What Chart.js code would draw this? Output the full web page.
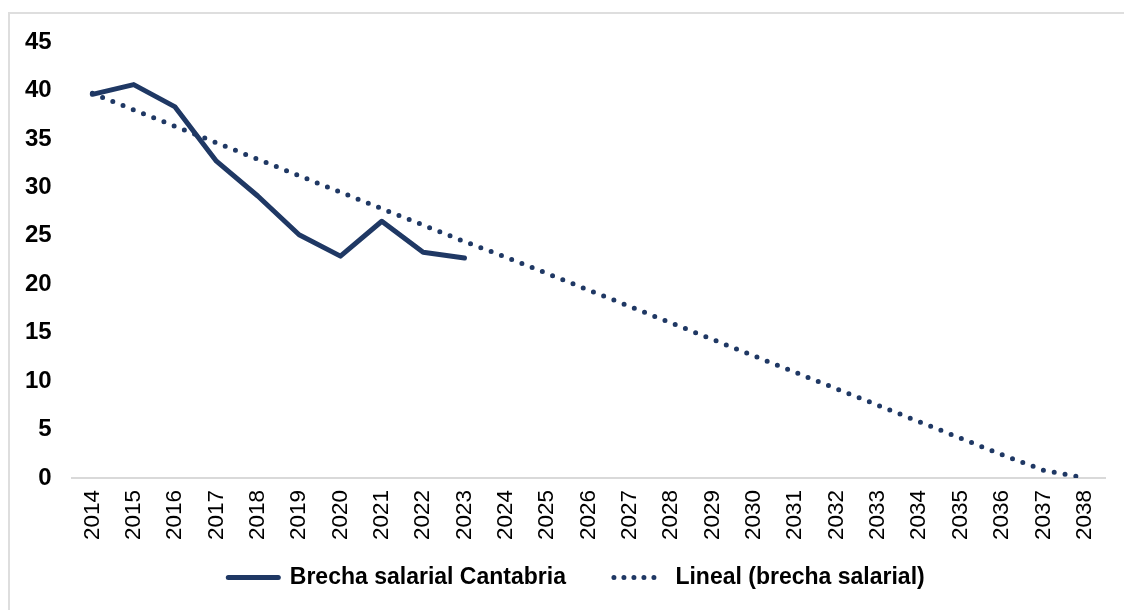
<!DOCTYPE html>
<html>
<head>
<meta charset="utf-8">
<script src="https://cdn.jsdelivr.net/npm/chart.js@4.4.1/dist/chart.umd.min.js"></script>
<style>
  html, body { margin: 0; padding: 0; background: #fff; overflow: hidden; }
  #wrap { position: relative; width: 1124px; height: 610px; }
  #frame { position: absolute; left: 8px; top: 12px; width: 1200px; height: 700px;
           border-top: 2px solid #dedede; border-left: 2px solid #dedede; pointer-events: none; }
  canvas { position: absolute; left: 0; top: 0; }
</style>
</head>
<body>
<div id="wrap">
  <div id="frame"></div>
  <canvas id="myChart" width="1124" height="610"></canvas>
</div>
<script>
// years on the x-axis
var years = ['2014','2015','2016','2017','2018','2019','2020','2021','2022','2023','2024','2025','2026',
             '2027','2028','2029','2030','2031','2032','2033','2034','2035','2036','2037','2038'];
// wage gap in Cantabria (observed)
var brecha = [39.6,40.6,38.3,32.7,29.1,25.1,22.9,26.5,23.3,22.7];
// linear trend line
var lineal = [39.7,38.0,36.3,34.6,32.9,31.2,29.5,27.8,26.1,24.4,22.8,21.1,19.4,
              17.7,16.0,14.3,12.6,10.9,9.2,7.5,5.8,4.1,2.4,0.8,0];
var yTicks = [0,5,10,15,20,25,30,35,40,45];

var navy = '#1F3864';

// legend: keep wide spacing between the two items but a short box height
var LEGEND_PAD = 48;
var legendFit = {
  id: 'legendFit',
  beforeLayout: function (chart) {
    var lg = chart.legend;
    if (lg && !lg._fitWrapped) {
      var orig = lg.fit;
      lg.fit = function () { orig.call(this); this.height = 58; };
      lg._fitWrapped = true;
    }
  },
  afterLayout: function (chart) {
    var lg = chart.legend;
    if (lg) {
      // draw the items higher than the padding would put them (clip box grows too)
      lg.top -= 34; lg.height += 34;
      lg.left += 20; lg.right += 20;
    }
  }
};

var ctx = document.getElementById('myChart');
var myChart = new Chart(ctx, {
  type: 'line',
  data: {
    labels: years,
    datasets: [
      {
        label: 'Brecha salarial Cantabria',
        data: brecha,
        borderColor: navy,
        backgroundColor: navy,
        borderWidth: 5,
        borderCapStyle: 'round',
        borderJoinStyle: 'round',
        pointRadius: 0,
        pointHoverRadius: 0,
        tension: 0,
        fill: false
      },
      {
        label: 'Lineal (brecha salarial)',
        data: lineal,
        borderColor: navy,
        backgroundColor: navy,
        borderWidth: 5,
        borderDash: [0, 11],
        borderCapStyle: 'round',
        pointRadius: 0,
        pointHoverRadius: 0,
        tension: 0,
        fill: false
      }
    ]
  },
  options: {
    responsive: false,
    animation: false,
    layout: { padding: { top: 42, right: 16, left: 5, bottom: 0 } },
    plugins: {
      tooltip: { enabled: false },
      legend: {
        position: 'bottom',
        labels: {
          usePointStyle: true,
          pointStyle: 'line',
          pointStyleWidth: 50,
          padding: LEGEND_PAD,
          color: '#000',
          font: { family: '"Liberation Sans", sans-serif', size: 23, weight: 'bold' },
          generateLabels: function (chart) {
            var items = Chart.defaults.plugins.legend.labels.generateLabels(chart);
            items.forEach(function (it, i) {
              var ds = chart.data.datasets[i];
              it.lineWidth = 5;
              it.lineCap = 'round';
              it.lineDash = ds.borderDash ? [0, 10] : [];
              it.pointStyle = 'line';
            });
            return items;
          }
        }
      }
    },
    scales: {
      x: {
        offset: true,
        grid: { display: false, drawTicks: false },
        border: { display: true, color: '#d9d9d9', width: 2 },
        ticks: {
          maxRotation: 90,
          minRotation: 90,
          autoSkip: false,
          padding: 12,
          color: '#000',
          font: { family: '"Liberation Sans", sans-serif', size: 22.5 }
        }
      },
      y: {
        min: 0,
        max: 45,
        afterBuildTicks: function (axis) {
          axis.ticks = yTicks.map(function (v) { return { value: v }; });
        },
        grid: { display: false, drawTicks: false },
        border: { display: false },
        ticks: {
          padding: 20,
          color: '#000',
          font: { family: '"Liberation Sans", sans-serif', size: 24, weight: 'bold' }
        }
      }
    }
  },
  plugins: [legendFit]
});
</script>
</body>
</html>
